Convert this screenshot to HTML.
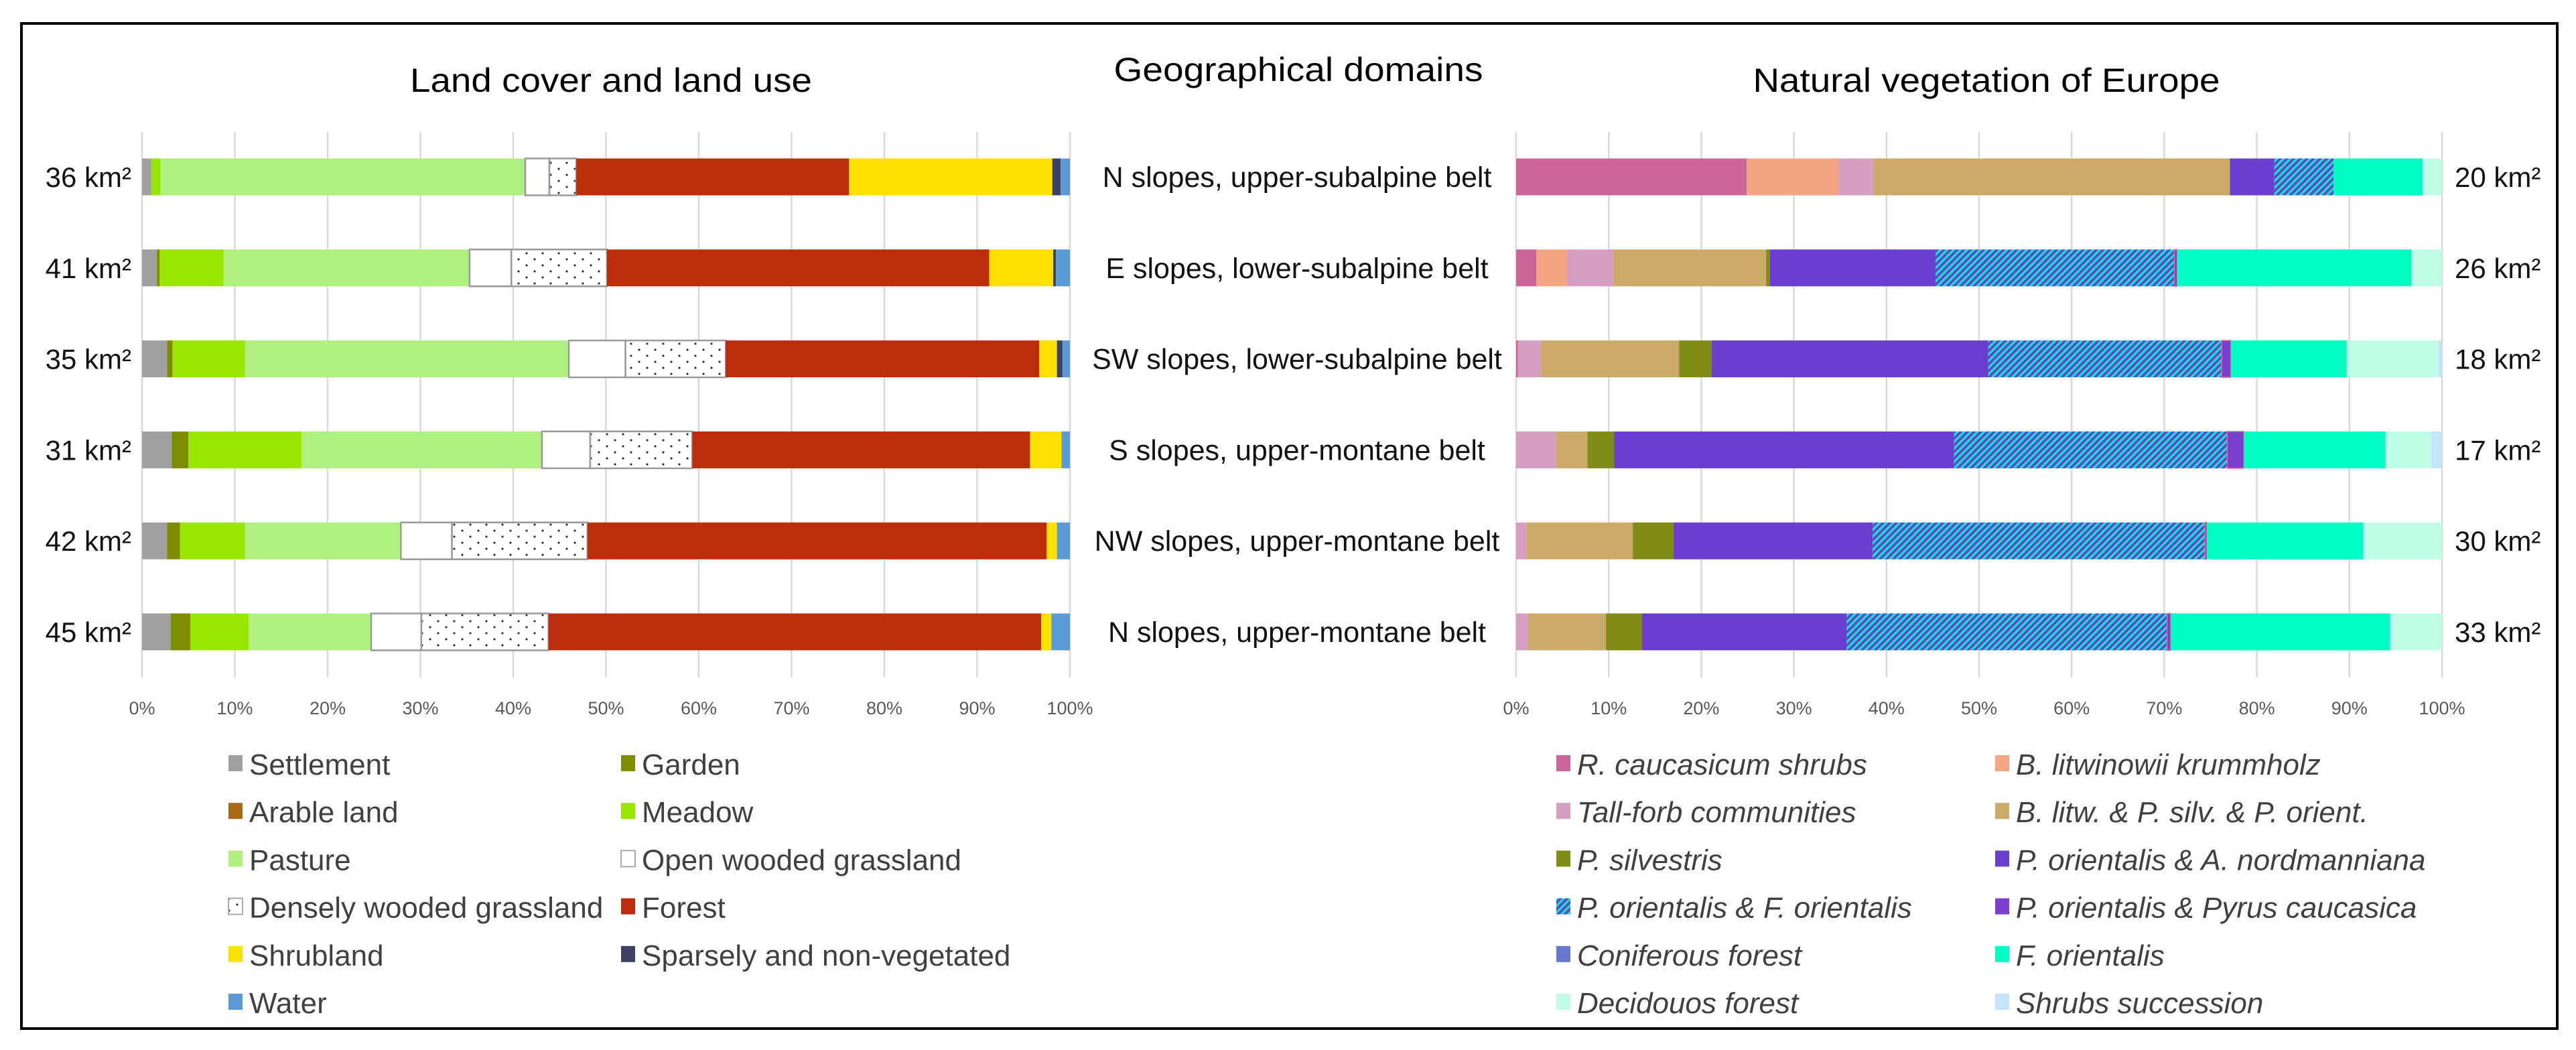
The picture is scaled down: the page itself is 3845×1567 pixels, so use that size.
<!DOCTYPE html>
<html><head><meta charset="utf-8"><style>
html,body{margin:0;padding:0;background:#fff;}
svg{display:block;}
text{font-family:"Liberation Sans",sans-serif;}
</style></head><body>
<svg id="chart" width="3845" height="1567" viewBox="0 0 3845 1567" xmlns="http://www.w3.org/2000/svg">
<defs>
<pattern id="hatch" patternUnits="userSpaceOnUse" width="7" height="7" patternTransform="rotate(45)">
<rect width="7" height="7" fill="#6a3fcf"/><rect width="3.5" height="7" fill="#10e0cc"/>
</pattern>
<pattern id="dots" patternUnits="userSpaceOnUse" width="24" height="18" x="0" y="4">
<rect width="24" height="18" fill="#fff"/><circle cx="6" cy="5" r="1.6" fill="#333"/><circle cx="18" cy="14" r="1.6" fill="#333"/>
</pattern>
</defs>
<rect x="32" y="35" width="3785" height="1500" fill="#fff" stroke="#000" stroke-width="4"/>
<text x="912" y="137" font-size="50" text-anchor="middle" textLength="600" lengthAdjust="spacingAndGlyphs" fill="#000">Land cover and land use</text>
<text x="1938" y="121" font-size="50" text-anchor="middle" textLength="551" lengthAdjust="spacingAndGlyphs" fill="#000">Geographical domains</text>
<text x="2965" y="137" font-size="50" text-anchor="middle" textLength="697" lengthAdjust="spacingAndGlyphs" fill="#000">Natural vegetation of Europe</text>
<g id="grid"></g><g id="bars"></g><g id="labels"></g><g id="legend"></g>
</svg>
<script>
// ---- shared categories ----
const domains = ["N slopes, upper-subalpine belt","E slopes, lower-subalpine belt","SW slopes, lower-subalpine belt","S slopes, upper-montane belt","NW slopes, upper-montane belt","N slopes, upper-montane belt"];
const leftAreas = ["36 km²","41 km²","35 km²","31 km²","42 km²","45 km²"];
const rightAreas = ["20 km²","26 km²","18 km²","17 km²","30 km²","33 km²"];
const tickLabels = ["0%","10%","20%","30%","40%","50%","60%","70%","80%","90%","100%"];
const tickValues = [0,10,20,30,40,50,60,70,80,90,100];
// ---- left chart series (% of area) ----
const leftNames = ["Settlement","Garden","Arable land","Meadow","Pasture","Open wooded grassland","Densely wooded grassland","Forest","Shrubland","Sparsely and non-vegetated","Water"];
const settlement = [1.0,1.6,2.7,3.2,2.7,3.1];
const garden = [0,0.3,0.6,1.8,1.4,2.1];
const arable = [0,0,0,0,0,0];
const meadow = [1.0,6.9,7.8,12.2,7.0,6.3];
const pasture = [39.3,26.5,34.9,25.9,16.8,13.2];
const openWooded = [2.6,4.5,6.1,5.2,5.5,5.4];
const denseWooded = [2.9,10.3,10.8,11.0,14.6,13.7];
const forest = [29.4,41.2,33.8,36.4,49.5,53.1];
const shrubland = [21.9,6.9,1.9,3.4,1.1,1.1];
const sparse = [0.9,0.3,0.6,0,0,0];
const water = [1.0,1.5,0.8,0.9,1.4,2.0];
// ---- right chart series ----
const rightNames = ["R. caucasicum shrubs","B. litwinowii krummholz","Tall-forb communities","B. litw. & P. silv. & P. orient.","P. silvestris","P. orientalis & A. nordmanniana","P. orientalis & F. orientalis","P. orientalis & Pyrus caucasica","Coniferous forest","F. orientalis","Decidouos forest","Shrubs succession"];
const rCauc = [24.9,2.2,0.2,0,0,0];
const bLitw = [9.9,3.3,0,0,0,0];
const tallForb = [3.8,5.0,2.5,4.3,1.1,1.25];
const bLitwMix = [38.5,16.5,14.9,3.4,11.5,8.45];
const pSilv = [0,0.4,3.5,2.9,4.4,3.9];
const pOrA = [4.8,17.9,29.9,36.7,21.5,22.1];
const pOrF = [6.4,25.8,25.2,29.5,35.9,34.6];
const pOrPyrus = [0,0.3,1.0,1.8,0.2,0.4];
const conifer = [0,0,0,0,0,0];
const fOr = [9.6,25.3,12.5,15.3,16.9,23.7];
const decid = [2.1,3.3,9.9,4.9,8.5,5.6];
const shrubSucc = [0,0,0.4,1.2,0,0];

const NS="http://www.w3.org/2000/svg";
function mk(tag,attrs,parent){const e=document.createElementNS(NS,tag);for(const k in attrs)e.setAttribute(k,attrs[k]);parent.appendChild(e);return e;}
const L0=212,L1=1597,R0=2263,R1=3645,Y0=197,Y1=1011,ROW0=264,ROWSTEP=135.8,BH=55;
const xL=v=>L0+(L1-L0)*v/100, xR=v=>R0+(R1-R0)*v/100, yRow=i=>ROW0+i*ROWSTEP;
const grid=document.getElementById('grid'),bars=document.getElementById('bars'),labels=document.getElementById('labels'),legend=document.getElementById('legend');

[[xL,'left'],[xR,'right']].forEach(([fx,side])=>{
  tickValues.forEach((v,i)=>{
    const g=mk('line',{x1:fx(v),x2:fx(v),y1:Y0,y2:Y1,stroke:'#d9d9d9','stroke-width':2.5},grid);
    
    
    const t=mk('text',{x:fx(v),y:1066,'font-size':27,'text-anchor':'middle',fill:'#595959'},labels);
    t.textContent=tickLabels[i];
    
    
  });
});

const leftSeries=[settlement,garden,arable,meadow,pasture,openWooded,denseWooded,forest,shrubland,sparse,water];
const leftFill=['#a0a0a0','#808c00','#a86814','#99e600','#b0f080','#ffffff','url(#dots)','#bb2d0b','#ffe000','#3e4166','#5b9bd5'];
const rightSeries=[rCauc,bLitw,tallForb,bLitwMix,pSilv,pOrA,pOrF,pOrPyrus,conifer,fOr,decid,shrubSucc];
const rightFill=['#cc6699','#f4a582','#d69ec0','#ccab6a','#7f8c16','#6a3fcf','url(#hatch)','#7a3fcf','#6678d0','#00ffc3','#c0fde6','#c4e4fb'];

function drawStack(series,fills,names,fx,prefix){
  for(let i=0;i<domains.length;i++){
    let acc=0;
    series.forEach((s,k)=>{
      const v=s[i]; if(v<=0){return;}
      const x1=fx(acc),x2=fx(acc+v); acc+=v;
      const outlined=(prefix==='left'&&(k===5||k===6));
      const r=mk('rect',{x:x1,y:yRow(i)-BH/2,width:x2-x1,height:BH,fill:fills[k]},bars);
      if(outlined){r.setAttribute('stroke','#9a9a9a');r.setAttribute('stroke-width','2.5');}
      if(prefix==='right'&&k===7){r.setAttribute('stroke','#e86a9a');r.setAttribute('stroke-width','1.5');}
      
      
    });
  }
}
drawStack(leftSeries,leftFill,leftNames,xL,'left');
drawStack(rightSeries,rightFill,rightNames,xR,'right');

domains.forEach((d,i)=>{
  const t=mk('text',{x:1936,y:yRow(i)+15,'font-size':43,'text-anchor':'middle',fill:'#111'},labels);
  t.textContent=d;
  
  
  const a=mk('text',{x:196,y:yRow(i)+15,'font-size':42,'text-anchor':'end',fill:'#111'},labels);
  a.textContent=leftAreas[i];
  
  
  const b=mk('text',{x:3664,y:yRow(i)+15,'font-size':42,'text-anchor':'start',fill:'#111'},labels);
  b.textContent=rightAreas[i];
  
  
});

function drawLegend(names,fills,cols,italic,prefix){
  names.forEach((n,k)=>{
    const row=Math.floor(k/2),col=k%2,cy=1141+row*71.2;
    const g=mk('g',{},legend);
    
    
    const r=mk('rect',{x:cols[col],y:cy-14,width:21,height:24,fill:fills[k]},g);
    if(fills[k]==='#ffffff'||fills[k]==='url(#dots)'){r.setAttribute('stroke','#aaa');r.setAttribute('stroke-width','2');}
    
    
    const t=mk('text',{x:cols[col]+31,y:cy+15,'font-size':44,fill:'#404040'},g);
    if(italic)t.setAttribute('font-style','italic');
    t.textContent=n;
    
    
  });
}
drawLegend(leftNames,leftFill,[341,927],false,'left');
drawLegend(rightNames,rightFill,[2323,2978],true,'right');
</script>
</body></html>
